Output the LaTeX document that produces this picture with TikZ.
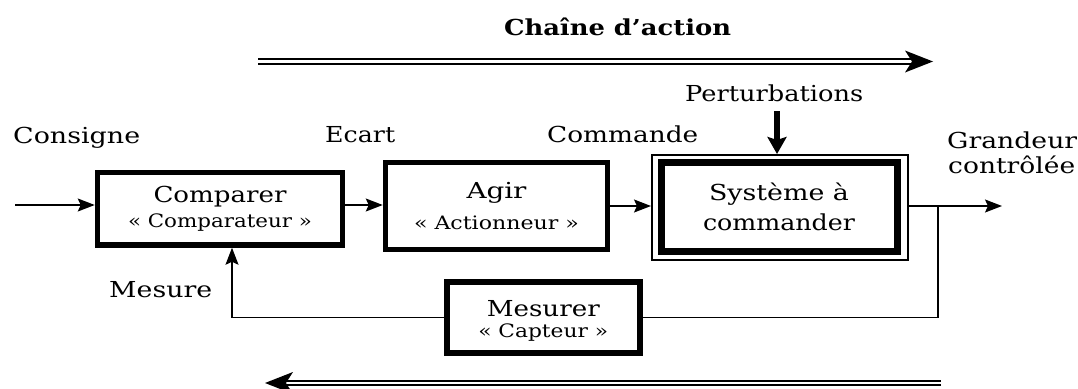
\documentclass[tikz,border=0pt]{standalone}
\usepackage{fontspec}
\setmainfont{DejaVu Serif}
\newfontfamily\labfont{DejaVu Serif}
\newfontfamily\titlefont{DejaVu Serif Bold}
\usetikzlibrary{arrows.meta}

% set #2 stretched horizontally to a width of #1 pt
\newlength\natwidth
\newcommand{\fitto}[2]{%
  \settowidth\natwidth{#2}%
  \pgfmathsetmacro\fitfac{#1/\natwidth}%
  \scalebox{\fitfac}[1]{#2}}
\newcommand{\subtxt}[2]{{\fontsize{18.5}{26}\selectfont\fitto{#1}{#2}}}

\tikzset{
  lab/.style={font=\labfont\fontsize{22}{26}\selectfont, inner sep=0pt, anchor=base west},
  blk/.style={draw, line width=5.5pt, align=center, inner sep=0pt,
              font=\labfont\fontsize{22}{26}\selectfont},
  conn/.style={line width=1.5pt, -{Stealth[length=17pt,width=13pt,inset=3pt]}},
  wire/.style={line width=1.5pt},
  dbl/.style={line width=1.8pt, double=white, double distance=2.6pt},
  bigtip/.style={fill=black},
  heavy/.style={line width=6pt, -{Stealth[length=17pt,width=19pt,inset=3pt]}}
}

\begin{document}
\begin{tikzpicture}[x=1pt,y=-1pt]
\useasboundingbox (0,0) rectangle (1078,388);

% title of the forward chain and its double arrow
\node[font=\titlefont\fontsize{22}{26}\selectfont, inner sep=0pt, anchor=base] (title) at (617.5,35)
  {\fitto{227}{Chaîne d’action}};
\coordinate (ta1) at (258,61.5);
\coordinate (ta2) at (933,61.5);
\draw[dbl] (ta1) -- ([xshift=-16pt]ta2);
\fill[bigtip] (ta2) -- ++(-28,-11) -- ++(7,11) -- ++(-7,11) -- cycle;

% blocks
\node[blk, minimum width=245pt, minimum height=72.5pt] (cmp) at (220,208.75)
  {\fitto{133}{Comparer}\\[-1pt]\subtxt{184}{«~Comparateur~»}};
\node[blk, minimum width=222pt, minimum height=87pt] (agr) at (496.5,206)
  {\fitto{60}{Agir}\\[5pt]\subtxt{165}{«~Actionneur~»}};
\node[blk, line width=7pt, minimum width=236pt, minimum height=89pt] (sys) at (779,206.5)
  {\fitto{140}{Système à}\\[4pt]\fitto{152}{commander}};
\node[draw, line width=2pt, minimum width=256pt, minimum height=105pt, inner sep=0pt] (sysout) at (780,207.5) {};
\node[blk, line width=6pt, minimum width=193.5pt, minimum height=71.5pt] (mes) at (543.25,317.25)
  {\rule{0pt}{23pt}\fitto{113}{Mesurer}\\[-5pt]\subtxt{130}{«~Capteur~»}};

% signal names
\node[lab] (consigne) at (13,143) {\fitto{127}{Consigne}};
\node[lab] (ecart) at (325,142) {\fitto{70}{Ecart}};
\node[lab] (commande) at (547,142) {\fitto{151}{Commande}};
\node[lab] (pert) at (685,101) {\fitto{178}{Perturbations}};
\node[lab] (grand) at (947,148) {\fitto{130}{Grandeur}};
\node[lab] (ctrl) at (948,173) {\fitto{127}{contrôlée}};
\node[lab] (mesure) at (109,297) {\fitto{103}{Mesure}};

% forward path
\coordinate (in) at (15,205);
\coordinate (out) at (1002,206);
\coordinate (br) at (938,206);
\draw[conn] (in) -- (in -| cmp.west);
\draw[conn] (cmp.east |- in) -- (agr.west |- in);
\draw[conn] (agr.east) -- (sysout.west |- agr.east);
\draw[conn] (sysout.east |- out) -- (out);

% disturbance
\coordinate (pin) at (777,111);
\draw[heavy] (pin) -- (pin |- sysout.north);

% feedback path
\draw[wire] (br) |- (mes.east);
\draw[conn] (mes.west) -| ([xshift=12pt]cmp.south);

% return chain double arrow
\coordinate (ba1) at (941,383);
\coordinate (ba2) at (265,383);
\draw[dbl] (ba1) -- ([xshift=16pt]ba2);
\fill[bigtip] (ba2) -- ++(28,-11) -- ++(-7,11) -- ++(7,11) -- cycle;
\end{tikzpicture}
\end{document}
